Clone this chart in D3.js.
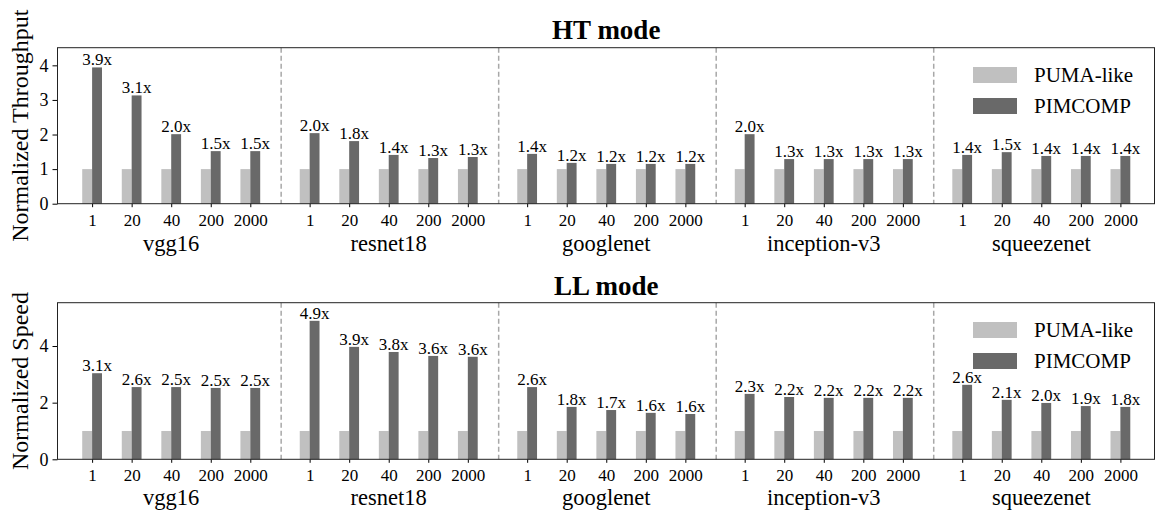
<!DOCTYPE html>
<html>
<head>
<meta charset="utf-8">
<script src="https://cdn.jsdelivr.net/npm/d3@7"></script>
<style>
  html, body { margin: 0; padding: 0; background: #fff; }
  svg { display: block; }
  svg text { font-family: "Liberation Serif", "DejaVu Serif", serif; fill: #000; }
</style>
</head>
<body>
<svg id="chart" width="1156" height="515"></svg>
<script>
// ---------- data ----------
const models = ["vgg16", "resnet18", "googlenet", "inception-v3", "squeezenet"];
const batchSizes = ["1", "20", "40", "200", "2000"];
const seriesNames = ["PUMA-like", "PIMCOMP"];

const htPuma = [1,1,1,1,1, 1,1,1,1,1, 1,1,1,1,1, 1,1,1,1,1, 1,1,1,1,1];
const htPimcomp = [3.94, 3.13, 2.01, 1.52, 1.52,
                   2.04, 1.81, 1.41, 1.32, 1.35,
                   1.44, 1.18, 1.15, 1.15, 1.15,
                   2.01, 1.29, 1.29, 1.29, 1.29,
                   1.41, 1.49, 1.38, 1.38, 1.38];
const htLabels = ["3.9x","3.1x","2.0x","1.5x","1.5x",
                  "2.0x","1.8x","1.4x","1.3x","1.3x",
                  "1.4x","1.2x","1.2x","1.2x","1.2x",
                  "2.0x","1.3x","1.3x","1.3x","1.3x",
                  "1.4x","1.5x","1.4x","1.4x","1.4x"];

const llPuma = [1,1,1,1,1, 1,1,1,1,1, 1,1,1,1,1, 1,1,1,1,1, 1,1,1,1,1];
const llPimcomp = [3.04, 2.55, 2.55, 2.52, 2.52,
                   4.89, 3.97, 3.79, 3.65, 3.62,
                   2.55, 1.85, 1.74, 1.64, 1.60,
                   2.31, 2.20, 2.17, 2.17, 2.17,
                   2.63, 2.10, 1.99, 1.88, 1.85];
const llLabels = ["3.1x","2.6x","2.5x","2.5x","2.5x",
                  "4.9x","3.9x","3.8x","3.6x","3.6x",
                  "2.6x","1.8x","1.7x","1.6x","1.6x",
                  "2.3x","2.2x","2.2x","2.2x","2.2x",
                  "2.6x","2.1x","2.0x","1.9x","1.8x"];

const htTicks = [0, 1, 2, 3, 4];
const llTicks = [0, 2, 4];

// ---------- layout ----------
const FONT = "'Liberation Serif', 'DejaVu Serif', serif";
const colors = { "PUMA-like": "#c0c0c0", "PIMCOMP": "#696969" };
const groupStep = 5.5;
const barW = 0.25;
const svg = d3.select("#chart");
const X0 = 57.5, X1 = 1155;
const x = d3.scaleLinear().domain([-0.875, 4 * groupStep + 4 + 0.875]).range([X0, X1]);

const pos = [];
models.forEach((m, g) => batchSizes.forEach((b, i) => pos.push(g * groupStep + i)));
const sepPos = d3.range(models.length - 1).map(g => g * groupStep + 4.78);

function panel(cfg) {
  const y = d3.scaleLinear().domain([0, cfg.ymax]).range([cfg.bottom, cfg.top]);
  const gp = svg.append("g").style("font-family", FONT);

  // separators
  gp.selectAll("line.sep").data(sepPos).join("line")
    .attr("x1", d => x(d)).attr("x2", d => x(d))
    .attr("y1", cfg.top).attr("y2", cfg.bottom)
    .attr("stroke", "#a8a8a8").attr("stroke-width", 1.5)
    .attr("stroke-dasharray", "5,3");

  // bars
  const pw = x(barW) - x(0);
  gp.selectAll("rect.puma").data(cfg.puma).join("rect")
    .attr("x", (d, k) => x(pos[k] - barW)).attr("width", pw)
    .attr("y", d => y(d)).attr("height", d => cfg.bottom - y(d))
    .attr("fill", colors["PUMA-like"]);
  gp.selectAll("rect.pim").data(cfg.pim).join("rect")
    .attr("x", (d, k) => x(pos[k])).attr("width", pw)
    .attr("y", d => y(d)).attr("height", d => cfg.bottom - y(d))
    .attr("fill", colors["PIMCOMP"]);

  // value labels
  gp.selectAll("text.val").data(cfg.pim).join("text")
    .attr("x", (d, k) => x(pos[k] + barW / 2))
    .attr("y", d => y(d) - 2)
    .attr("text-anchor", "middle")
    .style("font-size", "17px")
    .text((d, k) => cfg.labels[k]);

  // y axis
  const ya = gp.append("g").attr("transform", `translate(${X0},0)`)
    .call(d3.axisLeft(y).tickValues(cfg.ticks).tickSize(5).tickPadding(4).tickFormat(d3.format("d")));
  ya.attr("font-family", null).attr("font-size", null);
  ya.select(".domain").remove();
  ya.selectAll(".tick line").attr("stroke", "#000");
  ya.selectAll(".tick text").style("font-size", "18px").style("font-family", FONT).attr("fill", "#000");

  // x axis
  const xa = gp.append("g").attr("transform", `translate(0,${cfg.bottom})`)
    .call(d3.axisBottom(x).tickValues(pos).tickSize(3.5).tickPadding(6.5)
      .tickFormat((d, k) => batchSizes[k % batchSizes.length]));
  xa.attr("font-family", null).attr("font-size", null);
  xa.select(".domain").remove();
  xa.selectAll(".tick line").attr("stroke", "#000");
  xa.selectAll(".tick text").style("font-size", "17px").style("font-family", FONT).attr("fill", "#000");

  // group labels
  gp.selectAll("text.grp").data(models).join("text")
    .attr("x", (d, g) => x(g * groupStep + 2))
    .attr("y", cfg.bottom + cfg.grpOff)
    .attr("text-anchor", "middle")
    .style("font-size", "22.5px")
    .text(d => d);

  // frame
  gp.append("rect").attr("x", X0).attr("y", cfg.top)
    .attr("width", X1 - X0 - 0.5).attr("height", cfg.bottom - cfg.top)
    .attr("fill", "none").attr("stroke", "#222").attr("stroke-width", 1);

  // title
  gp.append("text").attr("x", (X0 + X1) / 2).attr("y", cfg.titleY)
    .attr("text-anchor", "middle").style("font-size", "27px").style("font-weight", "bold")
    .text(cfg.title);

  // y label
  gp.append("text")
    .attr("transform", `translate(28,${(cfg.top + cfg.bottom) / 2}) rotate(-90)`)
    .attr("text-anchor", "middle").style("font-size", "24px")
    .text(cfg.ylabel);

  // legend
  const lg = gp.append("g");
  seriesNames.forEach((s, k) => {
    const ly = cfg.legendY + k * 31;
    lg.append("rect").attr("x", 973).attr("y", ly).attr("width", 44).attr("height", 16)
      .attr("fill", colors[s]);
    lg.append("text").attr("x", 1034).attr("y", ly + 8).attr("dy", "0.35em")
      .style("font-size", "21px").text(s);
  });
}

panel({ top: 47.7, bottom: 203.7, ymax: 4.51, puma: htPuma, pim: htPimcomp, labels: htLabels,
        ticks: htTicks, title: "HT mode", titleY: 39, ylabel: "Normalized Throughput", legendY: 67, grpOff: 47.5 });
panel({ top: 302.7, bottom: 459.3, ymax: 5.53, puma: llPuma, pim: llPimcomp, labels: llLabels,
        ticks: llTicks, title: "LL mode", titleY: 295, ylabel: "Normalized Speed", legendY: 322, grpOff: 45.7 });
</script>
</body>
</html>
